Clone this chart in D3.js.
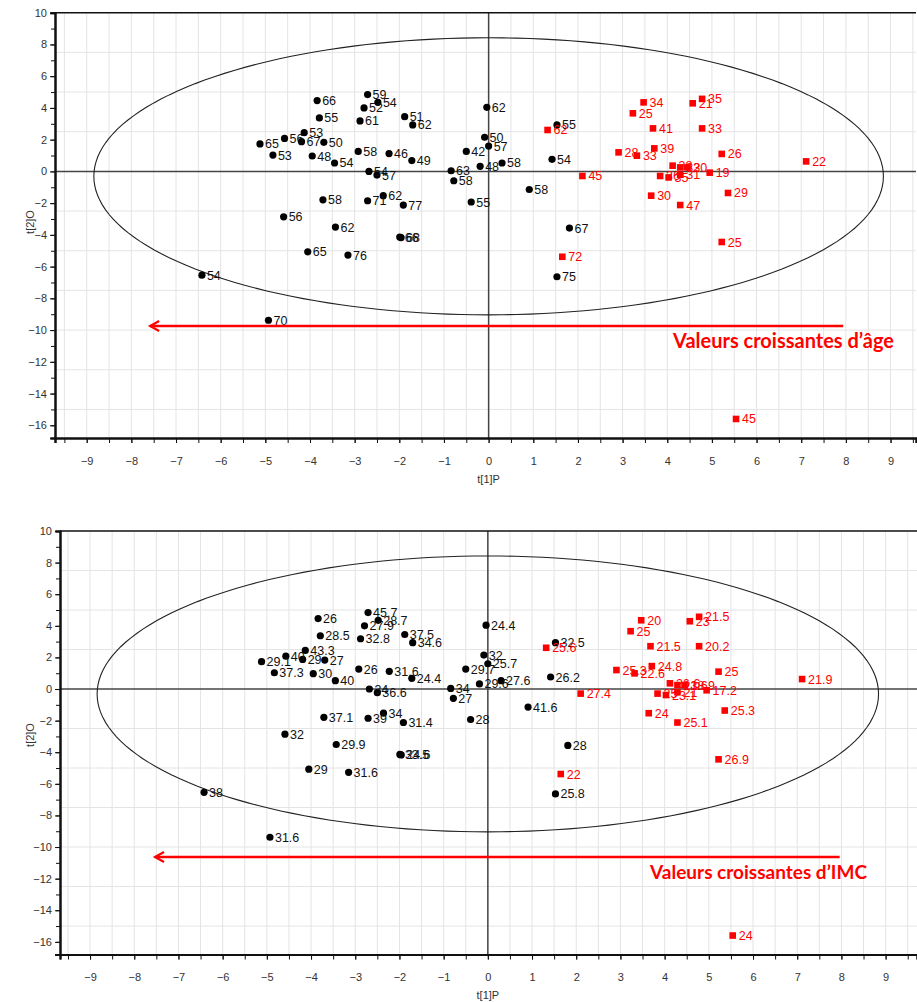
<!DOCTYPE html>
<html>
<head>
<meta charset="utf-8">
<script src="https://cdn.jsdelivr.net/npm/d3@7"></script>
<style>
  body { margin: 0; background: #fff; }
  text { font-family: "Liberation Sans", Arial, sans-serif; }
</style>
</head>
<body>
<svg id="chart" width="917" height="1002"></svg>
<script>
// scores of the black group (t[1], t[2]) and the labels shown in each panel
var t1Black = [-3.84, -2.71, -2.48, -2.79, -3.79, -2.88, -1.88, -1.70, -4.13, -4.57,
               -4.19, -3.69, -5.12, -4.83, -3.95, -3.45, -2.92, -2.23, -1.72, -2.68,
               -2.50, -3.71, -2.71, -2.36, -1.91, -4.59, -3.43, -1.99, -1.96, -4.05,
               -3.15, -6.42, -4.93, -0.04, 1.53, -0.09, 0.00, -0.50, 1.42, -0.19,
               0.30, -0.84, -0.78, 0.91, -0.39, 1.81, 1.53];
var t2Black = [4.46, 4.84, 4.35, 4.00, 3.37, 3.18, 3.45, 2.93, 2.44, 2.08,
               1.87, 1.83, 1.73, 1.03, 0.97, 0.53, 1.26, 1.12, 0.68, 0.00,
               -0.23, -1.79, -1.85, -1.53, -2.12, -2.86, -3.51, -4.14, -4.17, -5.07,
               -5.27, -6.54, -9.38, 4.04, 2.93, 2.15, 1.60, 1.26, 0.76, 0.32,
               0.53, 0.04, -0.59, -1.14, -1.93, -3.57, -6.64];
var ageBlack = ["66", "59", "54", "52", "55", "61", "51", "62", "53", "56",
                "67", "50", "65", "53", "48", "54", "58", "46", "49", "54",
                "57", "58", "71", "62", "77", "56", "62", "66", "68", "65",
                "76", "54", "70", "62", "55", "50", "57", "42", "54", "48",
                "58", "63", "58", "58", "55", "67", "75"];
var imcBlack = ["26", "45.7", "28.7", "27.9", "28.5", "32.8", "37.5", "34.6", "43.3", "40",
                "29", "27", "29.1", "37.3", "30", "40", "26", "31.6", "24.4", "34",
                "36.6", "37.1", "39", "34", "31.4", "32", "29.9", "33.5", "24.6", "29",
                "31.6", "38", "31.6", "24.4", "32.5", "32", "25.7", "29.7", "26.2", "29.6",
                "27.6", "34", "27", "41.6", "28", "28", "25.8"];

// scores of the red group
var t1Red = [3.47, 3.23, 4.78, 4.57, 3.68, 4.78, 3.71, 2.91, 3.32, 5.22,
             7.11, 4.95, 4.12, 4.29, 4.45, 3.84, 4.03, 4.29, 3.64, 5.36,
             4.29, 5.22, 1.32, 2.10, 1.65, 5.54];
var t2Red = [4.35, 3.66, 4.57, 4.29, 2.71, 2.71, 1.45, 1.20, 0.99, 1.10,
             0.63, -0.08, 0.36, 0.25, 0.25, -0.29, -0.38, -0.21, -1.53, -1.36,
             -2.12, -4.45, 2.61, -0.29, -5.38, -15.6];
var ageRed = ["34", "25", "35", "21", "41", "33", "39", "28", "33", "26",
              "22", "19", "38", "32", "30", "36", "35", "31", "30", "29",
              "47", "25", "62", "45", "72", "45"];
var imcRed = ["20", "25", "21.5", "23", "21.5", "20.2", "24.8", "25.3", "22.6", "25",
              "21.9", "17.2", "26.6", "23.6", "18.9", "25", "23.1", "21", "24", "25.3",
              "25.1", "26.9", "25.6", "27.4", "22", "24"];

// axis ticks
var xTicks = d3.range(-9, 10, 1);
var xMinor = d3.range(-9.5, 9.6, 0.5);
var yTicks = d3.range(-16, 11, 2);
var yMinor = d3.range(-16, 11, 1);
var xGrid = d3.range(-9.5, 9.6, 0.5);
var yGrid = [-15, -12.5, -10, -7.5, -5, -2.5, 2.5, 5, 7.5];

// Hotelling ellipse
var ellipseRx = 8.84;
var ellipseRy = 8.73;
var ellipseCy = -0.31;

var svg = d3.select("#chart");

var panels = [
  { left: 55, right: 916, top: 12.7, bottom: 438, xDom: [-9.71, 9.57],
    labelsBlack: ageBlack, labelsRed: ageRed,
    arrowY: -9.74, arrowX: [-7.58, 7.94],
    text: "Valeurs croissantes d\u2019\u00e2ge", textX: 894, textY: 348, textSize: 20,
    xLabelY: 483, yLabelY: 222 },
  { left: 60, right: 917, top: 531, bottom: 954.5, xDom: [-9.68, 9.71],
    labelsBlack: imcBlack, labelsRed: imcRed,
    arrowY: -10.63, arrowX: [-7.53, 7.96],
    text: "Valeurs croissantes d\u2019IMC", textX: 867, textY: 879, textSize: 19,
    xLabelY: 999, yLabelY: 735 }
];

panels.forEach(function(p) {
  var x = d3.scaleLinear().domain(p.xDom).range([p.left, p.right]);
  var y = d3.scaleLinear().domain([-16.8, 10]).range([p.bottom, p.top]);
  var g = svg.append("g");

  // grid
  g.selectAll(".vg").data(xGrid).enter().append("line")
    .attr("x1", function(d) { return x(d); }).attr("x2", function(d) { return x(d); })
    .attr("y1", p.top).attr("y2", p.bottom)
    .attr("stroke", "#e4e4e4").attr("stroke-width", 1);
  g.selectAll(".hg").data(yGrid).enter().append("line")
    .attr("y1", function(d) { return y(d); }).attr("y2", function(d) { return y(d); })
    .attr("x1", p.left).attr("x2", p.right)
    .attr("stroke", "#e4e4e4").attr("stroke-width", 1);

  // zero lines
  g.append("line").attr("x1", x(0)).attr("x2", x(0)).attr("y1", p.top).attr("y2", p.bottom)
    .attr("stroke", "#444").attr("stroke-width", 1.5);
  g.append("line").attr("x1", p.left).attr("x2", p.right).attr("y1", y(0)).attr("y2", y(0))
    .attr("stroke", "#444").attr("stroke-width", 1.5);

  // ellipse
  var th = d3.range(0, 361, 2).map(function(a) { return a * Math.PI / 180; });
  var ell = d3.line()
    .x(function(a) { return x(ellipseRx * Math.cos(a)); })
    .y(function(a) { return y(ellipseCy + ellipseRy * Math.sin(a)); });
  g.append("path").attr("d", ell(th)).attr("fill", "none")
    .attr("stroke", "#222").attr("stroke-width", 1.1);

  // axes
  g.append("g").attr("transform", "translate(0," + p.bottom + ")")
    .call(d3.axisBottom(x).tickValues(xTicks).tickSize(5).tickPadding(14)
      .tickFormat(d3.format("d")));
  g.append("g").attr("transform", "translate(0," + p.bottom + ")")
    .call(d3.axisBottom(x).tickValues(xMinor).tickSize(5).tickFormat(""));
  g.append("g").attr("transform", "translate(" + p.left + ",0)")
    .call(d3.axisLeft(y).tickValues(yTicks).tickSize(5).tickPadding(3)
      .tickFormat(d3.format("d")));
  g.append("g").attr("transform", "translate(" + p.left + ",0)")
    .call(d3.axisLeft(y).tickValues(yMinor).tickSize(4).tickFormat(""));
  g.selectAll(".domain").attr("stroke", "#111").attr("stroke-width", 2);
  g.selectAll(".tick line").attr("stroke", "#111");
  g.selectAll(".tick text").attr("fill", "#333").style("font-size", "11px")
    .style("font-family", "Liberation Sans, Arial, sans-serif");

  // top frame line
  g.append("line").attr("x1", p.left).attr("x2", p.right).attr("y1", p.top).attr("y2", p.top)
    .attr("stroke", "#111").attr("stroke-width", 1.5);

  // axis titles
  g.append("text").attr("x", x(0)).attr("y", p.xLabelY).attr("text-anchor", "middle")
    .style("font-size", "11px").attr("fill", "#333").text("t[1]P");
  g.append("text").attr("transform", "translate(34," + p.yLabelY + ") rotate(-90)")
    .attr("text-anchor", "middle").style("font-size", "11px").attr("fill", "#333").text("t[2]O");

  // black points
  var blk = t1Black.map(function(v, i) { return { x: v, y: t2Black[i], l: p.labelsBlack[i] }; });
  g.selectAll(".bp").data(blk).enter().append("circle")
    .attr("cx", function(d) { return x(d.x); })
    .attr("cy", function(d) { return y(d.y); })
    .attr("r", 3.6).attr("fill", "#000");
  g.selectAll(".bl").data(blk).enter().append("text")
    .attr("x", function(d) { return x(d.x) + 5; })
    .attr("y", function(d) { return y(d.y) + 4.5; })
    .style("font-size", "12.5px").attr("fill", "#111")
    .text(function(d) { return d.l; });

  // red points
  var red = t1Red.map(function(v, i) { return { x: v, y: t2Red[i], l: p.labelsRed[i] }; });
  g.selectAll(".rp").data(red).enter().append("rect")
    .attr("x", function(d) { return x(d.x) - 3.3; })
    .attr("y", function(d) { return y(d.y) - 3.3; })
    .attr("width", 6.6).attr("height", 6.6).attr("fill", "#ff0000");
  g.selectAll(".rl").data(red).enter().append("text")
    .attr("x", function(d) { return x(d.x) + 6; })
    .attr("y", function(d) { return y(d.y) + 4.5; })
    .style("font-size", "12.5px").attr("fill", "#ff0000")
    .text(function(d) { return d.l; });

  // arrow
  var ay = y(p.arrowY), ax0 = x(p.arrowX[0]), ax1 = x(p.arrowX[1]);
  g.append("line").attr("x1", ax0).attr("x2", ax1).attr("y1", ay).attr("y2", ay)
    .attr("stroke", "#ff0000").attr("stroke-width", 2.6);
  g.append("path")
    .attr("d", "M" + (ax0 + 9) + "," + (ay - 5) + " L" + ax0 + "," + ay + " L" + (ax0 + 9) + "," + (ay + 5))
    .attr("fill", "none").attr("stroke", "#ff0000").attr("stroke-width", 2.2);
  g.append("text").attr("x", p.textX).attr("y", p.textY).attr("text-anchor", "end")
    .style("font-family", "Lato, 'Open Sans', sans-serif").style("font-weight", "bold")
    .style("font-size", p.textSize + "px").attr("fill", "#ff0000").text(p.text);
});
</script>
</body>
</html>
